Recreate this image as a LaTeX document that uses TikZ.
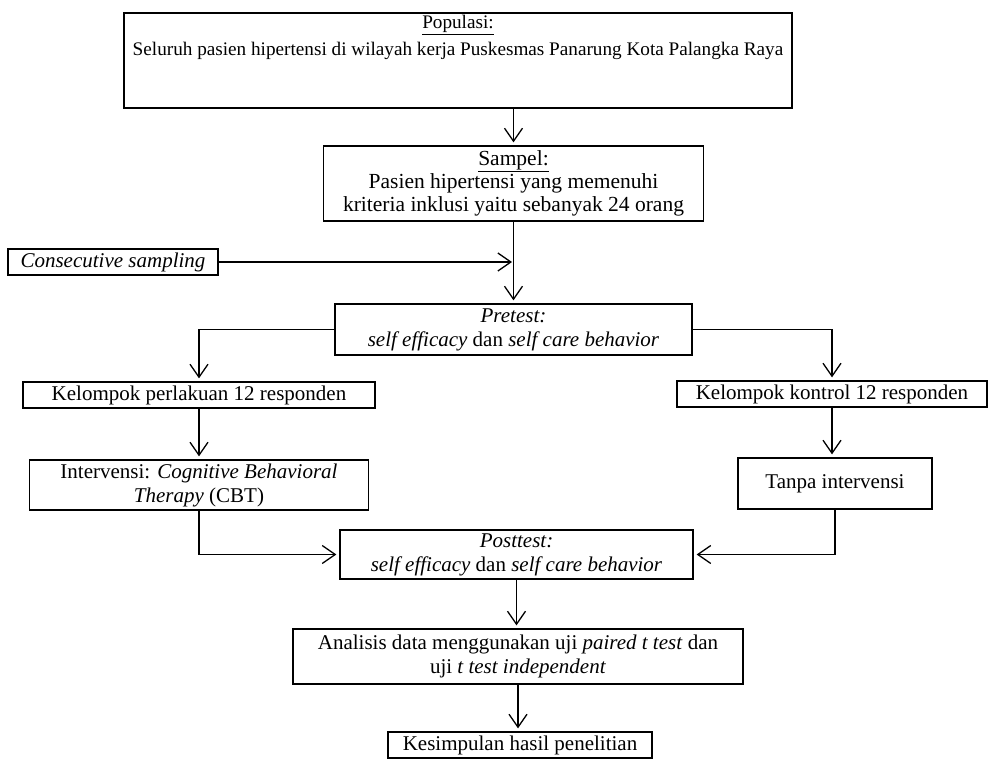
\documentclass[tikz,border=0pt]{standalone}
\usepackage{fontspec}
\setmainfont{Liberation Serif}
\usetikzlibrary{arrows.meta}
\begin{document}
\begin{tikzpicture}[x=1pt,y=-1pt,
  box/.style={draw, line width=1.3pt, inner sep=0pt, align=center,
    font=\fontsize{21}{24}\selectfont},
  arr/.style={line width=1.3pt, shorten >=3pt,
    -{Straight Barb[length=13pt,width=18pt,line width=1.3pt]}}]
\useasboundingbox (0,0) rectangle (991,760);
\node[box, minimum width=668, minimum height=95, text depth=50pt,
  font=\fontsize{19.2}{27}\selectfont] (pop) at (458,60.5)
  {\underline{Populasi:}\\Seluruh pasien hipertensi di wilayah kerja Puskesmas Panarung Kota Palangka Raya};
\node[box, minimum width=380, minimum height=75, font=\fontsize{21.5}{23}\selectfont] (samp) at (513.5,183.5)
  {\underline{Sampel:}\\Pasien hipertensi yang memenuhi\\kriteria inklusi yaitu sebanyak 24 orang};
\node[box, minimum width=210, minimum height=26] (cons) at (113,262)
  {\textit{Consecutive sampling}};
\node[box, minimum width=357, minimum height=51] (pre) at (513.5,329.5)
  {\textit{Pretest:}\\\textit{self efficacy} dan \textit{self care behavior}};
\node[box, minimum width=352, minimum height=26] (perl) at (199,395)
  {Kelompok perlakuan 12 responden};
\node[box, minimum width=310, minimum height=26] (kont) at (832,394)
  {Kelompok kontrol 12 responden};
\node[box, minimum width=339, minimum height=50] (interv) at (199,485)
  {Intervensi: \textit{Cognitive Behavioral}\\\textit{Therapy} (CBT)};
\node[box, minimum width=194, minimum height=51] (tanpa) at (835,483.5)
  {Tanpa intervensi};
\node[box, minimum width=353, minimum height=49] (post) at (516.5,554.5)
  {\textit{Posttest:}\\\textit{self efficacy} dan \textit{self care behavior}};
\node[box, minimum width=450, minimum height=55] (anal) at (518,656.5)
  {Analisis data menggunakan uji \textit{paired t test} dan\\uji \textit{t test independent}};
\node[box, minimum width=264, minimum height=26] (kes) at (520,745)
  {Kesimpulan hasil penelitian};
\draw[arr] (pop.south -| samp.north) -- (samp.north);
\draw[arr] (samp.south) -- (pre.north);
\draw[arr, shorten >=1.5pt] (cons.east) -- (cons.east -| samp.south);
\draw[arr] (pre.west) -| (perl.north);
\draw[arr] (pre.east) -| (kont.north);
\draw[arr] (perl.south) -- (perl.south |- interv.north);
\draw[arr] (kont.south) -- (kont.south |- tanpa.north);
\draw[arr] (interv.south) |- (post.west);
\draw[arr] (tanpa.south) |- (post.east);
\draw[arr] (post.south) -- (post.south |- anal.north);
\draw[arr] (anal.south) -- (anal.south |- kes.north);
\end{tikzpicture}
\end{document}
